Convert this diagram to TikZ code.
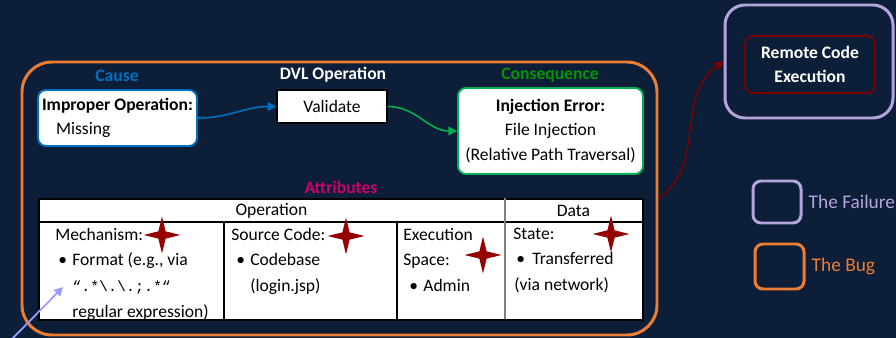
\documentclass[tikz,border=0pt]{standalone}
\usepackage{fontspec}
\setmainfont{Carlito}
\newfontfamily\codefont{Liberation Mono}
\usepackage{tikz}
\usetikzlibrary{arrows.meta,positioning,shapes.geometric}

\definecolor{bgnavy}{RGB}{13,31,56}
\definecolor{bugorange}{RGB}{237,125,49}
\definecolor{causeblue}{RGB}{0,112,192}
\definecolor{conseqgreen}{RGB}{0,150,0}
\definecolor{boxgreen}{RGB}{0,176,80}
\definecolor{attrpink}{RGB}{204,0,102}
\definecolor{failpurple}{RGB}{181,165,222}
\definecolor{sparkred}{RGB}{150,0,0}
\definecolor{rcered}{RGB}{128,0,0}
\definecolor{pointerblue}{RGB}{155,155,255}

\newcommand{\bul}{\makebox[0.34cm][l]{\hspace*{0.06cm}\textbullet}}
\newcommand{\ind}{\hspace*{0.34cm}}

\begin{document}
\begin{tikzpicture}[
      font=\fontsize{10}{13.8}\selectfont,
      heading/.style={font=\fontsize{10}{12}\selectfont\bfseries},
      card/.style={
          rectangle,
          rounded corners=0.16cm,
          draw,
          fill=white,
          line width=1.1pt,
          inner sep=2pt
        },
      frame/.style={
          rectangle,
          draw,
          line width=1.7pt
        },
      cell/.style={anchor=north west, align=left, inner sep=0pt,
          font=\fontsize{10}{14.6}\selectfont},
      spark/.style={star, star points=4, star point ratio=3.6, fill=sparkred,
          minimum size=0.74cm, inner sep=0pt},
      >={Triangle[length=5pt,width=5pt]}
    ]
    \fill[bgnavy] (0,0) rectangle (17.92,-6.76);
    \useasboundingbox (0,0) rectangle (17.92,-6.76);

    % The bug
    \node[frame, draw=bugorange, rounded corners=0.6cm, minimum width=12.7cm,
      minimum height=5.46cm] at (6.79,-3.97) (bug) {};

    % Explicit positions
    \node[heading, text=causeblue] at (2.34,-1.52) (causelbl) {Cause};
    \node[card, draw=causeblue, align=left, minimum width=3.18cm, minimum height=1.12cm]
    at (2.35,-2.36) (cause) {\textbf{Improper Operation:}\\\hspace*{0.28cm}Missing};

    \node[heading, text=white] at (6.66,-1.5) (dvllbl) {DVL Operation};
    \node[rectangle, draw, fill=white, line width=0.8pt, minimum width=2.2cm,
      minimum height=0.66cm] at (6.64,-2.13) (validate) {Validate};

    \node[heading, text=conseqgreen] at (11.0,-1.5) (conseqlbl) {Consequence};
    \node[card, draw=boxgreen, align=center, minimum width=3.7cm, minimum height=1.72cm]
    at (11.01,-2.62) (inj) {\textbf{Injection Error:}\\File Injection\\(Relative Path Traversal)};

    \draw[->, causeblue, line width=0.9pt] (cause.east) to[out=0, in=180] (validate.west);
    \draw[->, boxgreen, line width=0.9pt] (validate.east) to[out=0, in=180] (inj.west);

    % Attributes table
    \node[heading, text=attrpink] at (6.82,-3.74) (attrlbl) {Attributes};
    \node[rectangle, draw, fill=white, line width=1.2pt, anchor=north west, inner sep=0pt,
      minimum width=12.08cm, minimum height=2.42cm] at (0.76,-3.96) (tbl) {};
    \draw[line width=0.9pt] (0.76,-4.44) -- (12.84,-4.44);
    \draw[line width=0.9pt] (4.48,-4.44) -- (4.48,-6.38);
    \draw[line width=0.9pt] (7.94,-4.44) -- (7.94,-6.38);
    \draw[gray, line width=0.9pt] (10.10,-3.96) -- (10.10,-6.38);

    \node at (5.43,-4.22) (opshead) {Operation};
    \node at (11.47,-4.22) (datahead) {Data};

    \node[cell] at (1.10,-4.55) (mech) {Mechanism:\\
      \bul Format (e.g., via\\
      \ind{\codefont\fontsize{8.5}{14.6}\selectfont “.*\textbackslash.\textbackslash.;.*“}\\
      \ind regular expression)};
    \node[cell] at (4.62,-4.55) (src) {Source Code:\\
      \hspace*{0.04cm}\bul Codebase\\
      \hspace*{0.04cm}\ind(login.jsp)};
    \node[cell] at (8.06,-4.55) (space) {Execution\\Space:\\
      \hspace*{0.06cm}\bul Admin};
    \node[cell] at (10.26,-4.55) (state) {State:\\
      \hspace*{0.02cm}\makebox[0.36cm][l]{\hspace*{0.04cm}\textbullet}Transferred\\
      \hspace*{0.02cm}(via network)};

    \node[spark] at (3.24,-4.70) (spark1) {};
    \node[spark] at (6.92,-4.72) (spark2) {};
    \node[spark] at (9.66,-5.10) (spark3) {};
    \node[spark] at (12.22,-4.68) (spark4) {};

    % The failure
    \node[frame, draw=failpurple, rounded corners=0.4cm, minimum width=3.36cm,
      minimum height=2.26cm] at (16.18,-1.23) (fail) {};
    \node[rectangle, rounded corners=0.16cm, draw=rcered, line width=0.9pt,
      minimum width=2.6cm, minimum height=1.14cm, align=center, text=white,
      font=\fontsize{10}{13.5}\selectfont\bfseries]
    at (16.2,-1.29) (rce) {Remote Code\\Execution};
    \draw[->, rcered, line width=0.8pt] (bug.east) to[out=35, in=215] (fail.west);

    % Legend
    \node[frame, draw=failpurple, rounded corners=0.16cm, minimum width=0.96cm,
      minimum height=0.84cm] at (15.54,-4.04) (keyfail) {};
    \node[right=0pt of keyfail, text=failpurple, font=\fontsize{11}{13}\selectfont]
    (keyfailtxt) {The Failure};
    \node[frame, draw=bugorange, rounded corners=0.16cm, minimum width=0.98cm,
      minimum height=0.9cm] at (15.59,-5.33) (keybug) {};
    \node[right=0pt of keybug, text=bugorange, font=\fontsize{11}{13}\selectfont]
    (keybugtxt) {The Bug};

    % Pointer
    \coordinate (ptail) at (0.24,-6.78);
    \coordinate (ptip) at (1.26,-5.74);
    \draw[->, pointerblue, line width=1pt] (ptail) -- (ptip);
  \end{tikzpicture}
\end{document}
